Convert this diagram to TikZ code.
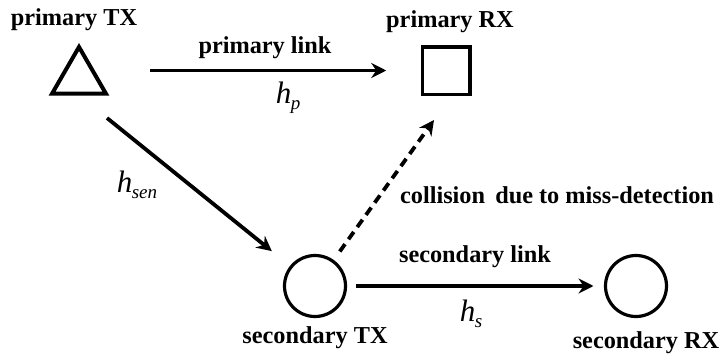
\documentclass[tikz,border=0pt]{standalone}
\usepackage{fontspec}
\setmainfont{Liberation Serif}
\usetikzlibrary{shapes.geometric,arrows.meta}
\newcommand{\hsym}[1]{{\fontsize{31}{31}\selectfont\itshape h\kern-0.5pt\raisebox{-6pt}{\fontsize{19}{19}\selectfont #1}}}
\begin{document}
\begin{tikzpicture}[x=1pt,y=-1pt,
  lbl/.style={font=\fontsize{24.3}{24.3}\selectfont\bfseries, inner sep=0pt},
  mlbl/.style={inner sep=0pt},
  arr/.style={line width=3.8pt, -{Stealth[length=15pt,width=15pt,inset=5pt]}},
  darr/.style={arr, dash pattern=on 9pt off 6pt},
  nodebox/.style={draw, line width=3.5pt, inner sep=0pt, outer sep=0pt}]
\useasboundingbox (0,0) rectangle (724,356);
% nodes
\node[nodebox, regular polygon, regular polygon sides=3, minimum size=62pt, line width=4pt] (tx) at (79,78) {};
\node[nodebox, rectangle, minimum size=47.5pt] (rx) at (446,70.5) {};
\node[nodebox, circle, minimum size=61pt, line width=3.2pt] (stx) at (315,286) {};
\node[nodebox, circle, minimum size=61pt, line width=3.2pt] (srx) at (636,286) {};
% coordinates
\coordinate (plS) at (150,70.5);
\coordinate (senS) at (107,118);
\coordinate (dtip) at (434,120);
% connectors
\draw[arr, shorten >=36pt] (plS) -- (rx);
\draw[arr, shorten >=25pt] (senS) -- (stx);
\draw[darr, shorten <=12pt] (stx) -- (dtip);
\draw[arr, shorten <=10pt, shorten >=12pt] (stx) -- (srx);
% labels
\node[lbl] (ltx) at (74,20) {primary TX};
\node[lbl] (lrx) at (450,22) {primary RX};
\node[lbl] (lpl) at (265,48) {primary link};
\node[mlbl] (lhp) at (288,98) {\hsym{p}};
\node[mlbl] (lhsen) at (137,185) {\hsym{sen}};
\node[lbl] (lcol) at (557,195) {collision\, due to miss-detection};
\node[lbl] (lsl) at (475,257) {secondary link};
\node[mlbl] (lhs) at (471,314) {\hsym{s}};
\node[lbl] (lstx) at (315,338) {secondary TX};
\node[lbl] (lsrx) at (646,343) {secondary RX};
\end{tikzpicture}
\end{document}
